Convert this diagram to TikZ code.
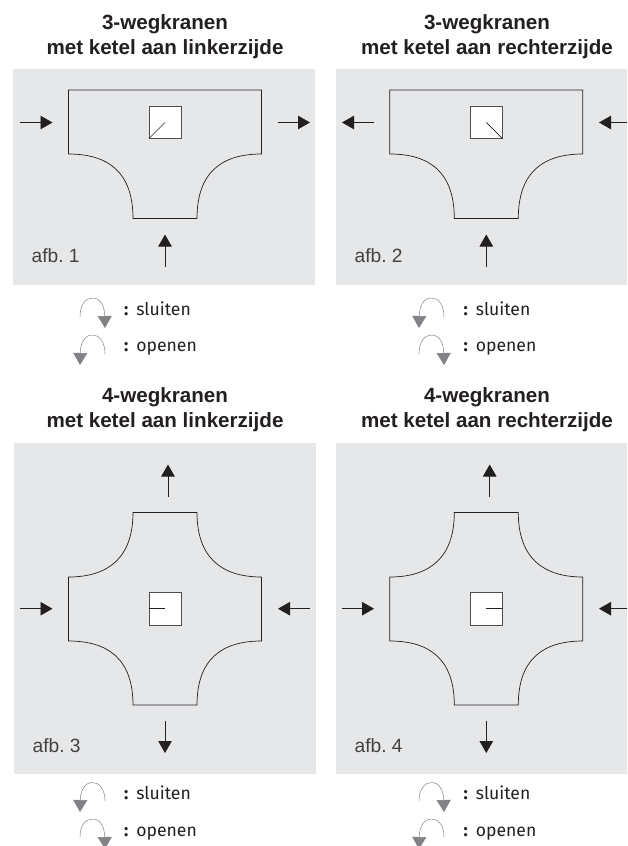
\documentclass[tikz,border=0pt]{standalone}
\usepackage{fontspec}
\usetikzlibrary{arrows.meta}
\setmainfont{Liberation Sans}
\newfontfamily\legendfont[WordSpace=1.35]{Fira Sans}
\newfontfamily\labelfont[WordSpace=0.65]{Liberation Sans}
\definecolor{panelgray}{HTML}{E6E7E9}
\definecolor{inkblack}{HTML}{231F20}
\definecolor{turngray}{HTML}{808285}
\tikzset{
  panel/.style={fill=panelgray, draw=none},
  body/.style={draw=inkblack, line width=0.7pt},
  window/.style={draw=inkblack!80, fill=white, line width=0.8pt},
  flow/.style={draw=inkblack, line width=0.8pt, -{Triangle[length=12pt,width=13.5pt]}},
  turn/.style={draw=turngray, line width=0.5pt, -{Triangle[length=12pt,width=14pt,fill=turngray]}},
  title/.style={font=\fontsize{20.6}{25}\selectfont\bfseries, align=center, text=inkblack, inner sep=0pt},
  figlabel/.style={font=\labelfont\fontsize{19.2}{22}\selectfont, text=inkblack!85, anchor=base west, inner sep=0pt},
  legend/.style={font=\legendfont\fontsize{17.6}{20}\selectfont, text=inkblack, anchor=base west, inner sep=0pt}
}
\begin{document}
\begin{tikzpicture}[x=1pt, y=-1pt]
  \useasboundingbox (0,0) rectangle (627,846);
  % panels
  \fill[panel] (13,69) rectangle (315,285);
  \fill[panel] (336,69) rectangle (627,285);
  \fill[panel] (14,443) rectangle (316,774);
  \fill[panel] (336,443) rectangle (627,774);
  % titles
  \node[title] (title1) at (165,36.5) {3-wegkranen\\met ketel aan linkerzijde};
  \node[title] (title2) at (487,36.5) {3-wegkranen\\met ketel aan rechterzijde};
  \node[title] (title3) at (165,410) {4-wegkranen\\met ketel aan linkerzijde};
  \node[title] (title4) at (487,410) {4-wegkranen\\met ketel aan rechterzijde};
  % afb. 1
  \draw[body] (68.5,90) -- (261.5,90) -- (261.5,154) .. controls (222,154) and (197,172) .. (197,218.5) -- (133,218.5) .. controls (133,172) and (108,154) .. (68.5,154) -- cycle;
  \draw[window] (149,106.5) rectangle (181,138.5);
  \draw[body] (149,138.5) -- (165,122.5);
  \draw[flow] (20,122.5) -- (52.5,122.5);
  \draw[flow] (277.5,122.5) -- (310,122.5);
  \draw[flow] (165,266.5) -- (165,234.5);
  \node[figlabel] (afb1) at (31.5,262) {afb. 1};
  \draw[turn] (80,317) .. controls (80,304) and (86,298) .. (92.5,298) .. controls (100,298) and (104.5,305) .. (105,328);
  \draw[turn] (105,354) .. controls (105,341) and (99,335) .. (92.5,335) .. controls (85,335) and (80.5,342) .. (80,365);
  \node[legend] (sluiten1) at (124,315) {\textbf{:} sluiten};
  \node[legend] (openen1) at (124,351) {\textbf{:} openen};
  % afb. 2
  \draw[body] (389.8,90) -- (582.8,90) -- (582.8,154) .. controls (543.3,154) and (518.3,172) .. (518.3,218.5) -- (454.3,218.5) .. controls (454.3,172) and (429.3,154) .. (389.8,154) -- cycle;
  \draw[window] (470.3,106.5) rectangle (502.3,138.5);
  \draw[body] (502.3,138.5) -- (486.3,122.5);
  \draw[flow] (374,122.5) -- (342,122.5);
  \draw[flow] (627,122.5) -- (599,122.5);
  \draw[flow] (486.3,266.5) -- (486.3,234.5);
  \node[figlabel] (afb2) at (354.5,262) {afb. 2};
  \draw[turn] (444,317) .. controls (444,304) and (438,298) .. (431.5,298) .. controls (424,298) and (419.5,305) .. (419,328);
  \draw[turn] (419,354) .. controls (419,341) and (425,335) .. (431.5,335) .. controls (439,335) and (443.5,342) .. (444,365);
  \node[legend] (sluiten2) at (463.5,315) {\textbf{:} sluiten};
  \node[legend] (openen2) at (463.5,351) {\textbf{:} openen};
  % afb. 3
  \draw[body] (133,512.5) -- (197,512.5) .. controls (197,558) and (222,577) .. (261.5,577) -- (261.5,641) .. controls (222,641) and (197,659) .. (197,705) -- (133,705) .. controls (133,659) and (108,641) .. (68.5,641) -- (68.5,577) .. controls (108,577) and (133,558) .. (133,512.5) -- cycle;
  \draw[window] (149,592.5) rectangle (181,625);
  \draw[body] (149,608.7) -- (165,608.7);
  \draw[flow] (20,608.7) -- (52.5,608.7);
  \draw[flow] (310,608.7) -- (278,608.7);
  \draw[flow] (168,496.5) -- (168,464.5);
  \draw[flow] (165,721) -- (165,753);
  \node[figlabel] (afb3) at (32.5,752) {afb. 3};
  \draw[turn] (105,801) .. controls (105,789) and (99,782.5) .. (92.5,782.5) .. controls (85,782.5) and (80.5,790) .. (80,812);
  \draw[turn] (80,837) .. controls (80,825) and (86,819) .. (92.5,819) .. controls (100,819) and (104.5,826) .. (105,849);
  \node[legend] (sluiten3) at (124,799) {\textbf{:} sluiten};
  \node[legend] (openen3) at (124,836) {\textbf{:} openen};
  % afb. 4
  \draw[body] (454.3,512.5) -- (518.3,512.5) .. controls (518.3,558) and (543.3,577) .. (582.8,577) -- (582.8,641) .. controls (543.3,641) and (518.3,659) .. (518.3,705) -- (454.3,705) .. controls (454.3,659) and (429.3,641) .. (389.8,641) -- (389.8,577) .. controls (429.3,577) and (454.3,558) .. (454.3,512.5) -- cycle;
  \draw[window] (470.3,592.5) rectangle (502.3,625);
  \draw[body] (502.3,608.7) -- (486.3,608.7);
  \draw[flow] (342,608.7) -- (374,608.7);
  \draw[flow] (627,608.7) -- (599,608.7);
  \draw[flow] (489.7,496.5) -- (489.7,464.5);
  \draw[flow] (486.3,721) -- (486.3,753);
  \node[figlabel] (afb4) at (354.5,752) {afb. 4};
  \draw[turn] (419,801) .. controls (419,789) and (425,782.5) .. (431.5,782.5) .. controls (439,782.5) and (443.5,790) .. (444,812);
  \draw[turn] (444,837) .. controls (444,825) and (438,819) .. (431.5,819) .. controls (424,819) and (419.5,826) .. (419,849);
  \node[legend] (sluiten4) at (463.5,799) {\textbf{:} sluiten};
  \node[legend] (openen4) at (463.5,836) {\textbf{:} openen};
\end{tikzpicture}
\end{document}
